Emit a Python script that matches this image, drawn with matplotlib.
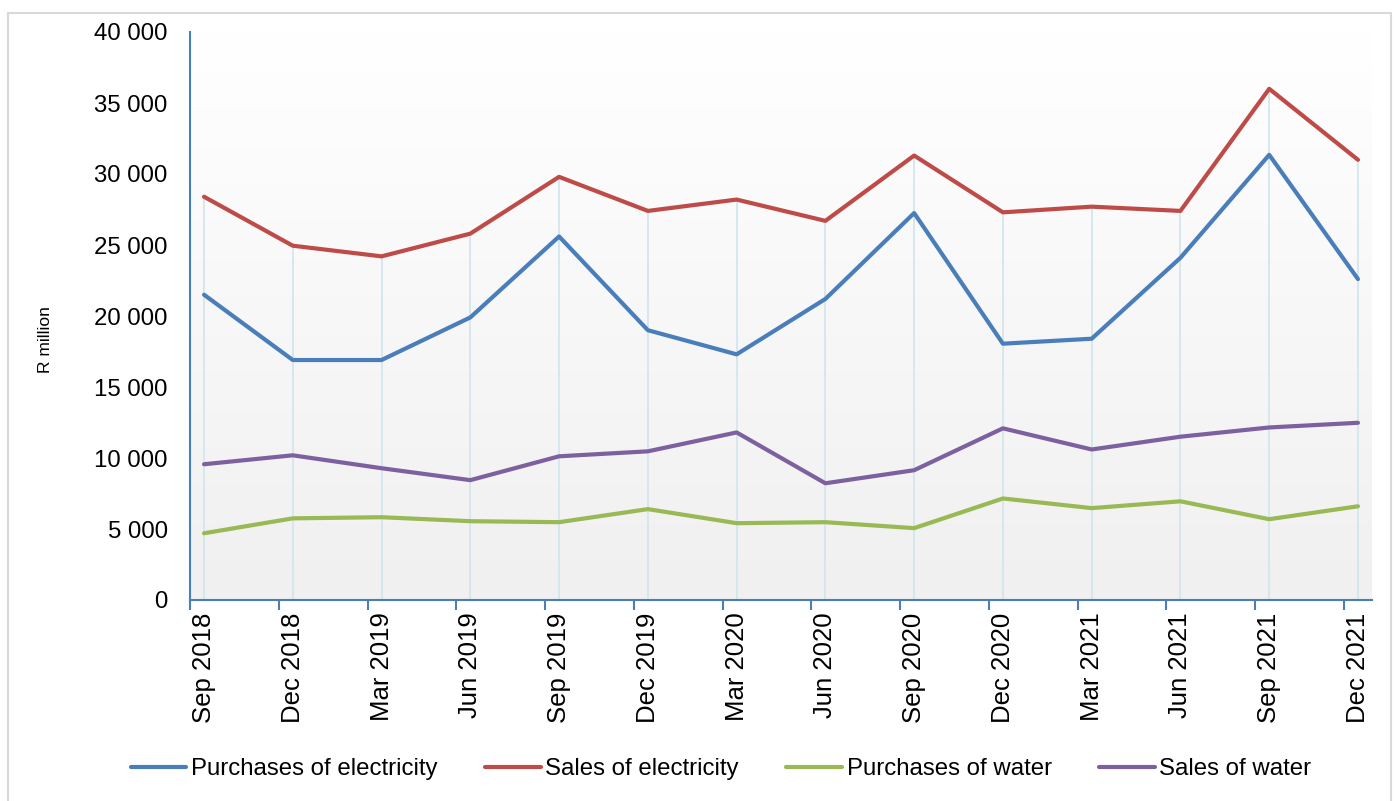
import matplotlib
matplotlib.use("Agg")
import matplotlib.pyplot as plt
import numpy as np
from matplotlib.ticker import FuncFormatter, FixedLocator
from matplotlib.patches import Rectangle

plt.rcParams['font.family'] = ['Liberation Sans', 'DejaVu Sans']

quarters = ["Sep 2018", "Dec 2018", "Mar 2019", "Jun 2019", "Sep 2019", "Dec 2019",
            "Mar 2020", "Jun 2020", "Sep 2020", "Dec 2020", "Mar 2021", "Jun 2021",
            "Sep 2021", "Dec 2021"]
purchases_electricity = [21500, 16900, 16900, 19900, 25600, 19000, 17300, 21200,
                         27250, 18050, 18400, 24100, 31350, 22600]
sales_electricity = [28400, 24950, 24200, 25800, 29800, 27400, 28200, 26700,
                     31300, 27300, 27700, 27400, 36000, 31000]
purchases_water = [4700, 5750, 5830, 5550, 5480, 6400, 5410, 5480,
                   5060, 7150, 6470, 6950, 5690, 6600]
sales_water = [9560, 10190, 9280, 8440, 10120, 10470, 11800, 8220,
               9140, 12090, 10600, 11500, 12150, 12480]
series_names = ["Purchases of electricity", "Sales of electricity",
                "Purchases of water", "Sales of water"]
colors = ["#4a7ebb", "#be4b48", "#98b954", "#7d60a0"]

W, H = 1396, 801
fig = plt.figure(figsize=(W / 100, H / 100), dpi=100)
fig.patch.set_facecolor("white")
fig.add_artist(Rectangle((8 / W, -0.02), (1391 - 8) / W, 1 - 13 / H + 0.02,
                         transform=fig.transFigure, fill=False,
                         edgecolor="#d9d9d9", lw=1.5))

x0, x1, ytop, ybot = 190, 1372, 32, 600
ax = fig.add_axes([x0 / W, 1 - ybot / H, (x1 - x0) / W, (ybot - ytop) / H])
ax.set_facecolor("none")

x = np.arange(len(quarters))
off = 0.158
ax.set_xlim(-off, len(quarters) - 1 + off)
ax.set_ylim(0, 40000)

# gradient background
grad = np.linspace(0, 1, 256).reshape(-1, 1)
cmap = matplotlib.colors.LinearSegmentedColormap.from_list("g", ["#f0f0f0", "#ffffff"])
ax.imshow(grad, extent=[0, 1, 0, 1], transform=ax.transAxes, aspect="auto",
          cmap=cmap, origin="lower", zorder=0)

series = [purchases_electricity, sales_electricity, purchases_water, sales_water]
tops = np.max(np.array(series), axis=0)
ax.vlines(x, 0, tops, colors="#d3e7ee", lw=1.3, zorder=1)

for vals, name, c in zip(series, series_names, colors):
    ax.plot(x, vals, color=c, lw=3.0, label=name, zorder=3, solid_capstyle="round")

for s in ["top", "right"]:
    ax.spines[s].set_visible(False)
for s in ["left", "bottom"]:
    ax.spines[s].set_color("#4a7ebb")
    ax.spines[s].set_linewidth(1.5)

ax.set_yticks(np.arange(0, 40001, 5000))
ax.yaxis.set_major_formatter(FuncFormatter(lambda v, p: f"{int(v):,}".replace(",", " ")))
ax.tick_params(axis="y", length=0, pad=16, labelsize=17.3, labelcolor="black")

ax.set_xticks(x)
ax.set_xticklabels(quarters, rotation=90, fontsize=18.5)
ax.tick_params(axis="x", which="major", length=0, pad=9)
ax.xaxis.set_minor_locator(FixedLocator(x - off))
ax.tick_params(axis="x", which="minor", length=7, width=1.5, color="#4a7ebb", direction="out")

fig.text(46 / W, 1 - 340 / H, "R million", rotation=90, ha="center", va="center", fontsize=12.5)

fig.legend(loc="center", bbox_to_anchor=(721 / W, 1 - 769 / H), ncol=4, frameon=False,
           fontsize=17.3, handlelength=2.33, handletextpad=0.2, columnspacing=1.95)

fig.savefig("out.png", dpi=100)
